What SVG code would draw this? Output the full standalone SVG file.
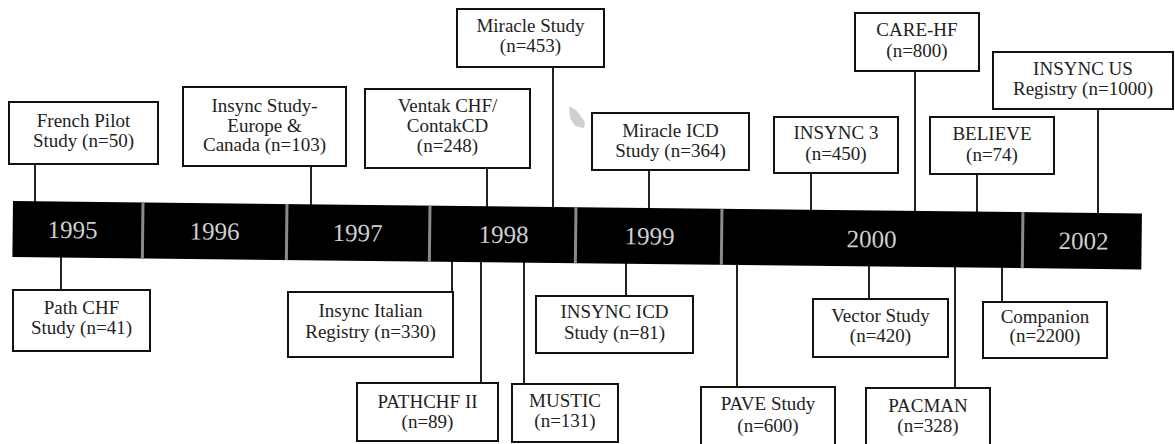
<svg xmlns="http://www.w3.org/2000/svg" width="1175" height="444" viewBox="0 0 1175 444">
<style>
.box rect{fill:#fff;stroke:#111;stroke-width:2}
.box text{font-family:"Liberation Serif","DejaVu Serif","Times New Roman",serif;font-size:19px;fill:#222;text-anchor:middle}
.conn line{stroke:#222;stroke-width:2}
.year{font-family:"Liberation Serif","DejaVu Serif","Times New Roman",serif;font-size:25px;fill:#cfcfcf;text-anchor:middle}
.sep{stroke:#8a8a8a;stroke-width:3}
</style>
<rect width="1175" height="444" fill="#fff"/>
<g id="connectors" class="conn">
<line x1="35" y1="164" x2="35" y2="215"/>
<line x1="311" y1="166" x2="311" y2="215"/>
<line x1="487" y1="168" x2="487" y2="215"/>
<line x1="553" y1="67" x2="553" y2="215"/>
<line x1="649" y1="170" x2="649" y2="215"/>
<line x1="811" y1="173" x2="811" y2="220"/>
<line x1="915" y1="71" x2="915" y2="220"/>
<line x1="977" y1="174" x2="977" y2="220"/>
<line x1="1098" y1="109" x2="1098" y2="220"/>
<line x1="61" y1="240" x2="61" y2="290"/>
<line x1="452" y1="245" x2="452" y2="292"/>
<line x1="481" y1="245" x2="481" y2="383"/>
<line x1="524" y1="245" x2="524" y2="384"/>
<line x1="626" y1="245" x2="626" y2="296"/>
<line x1="737" y1="245" x2="737" y2="387"/>
<line x1="869" y1="250" x2="869" y2="299"/>
<line x1="955" y1="250" x2="955" y2="388"/>
<line x1="1002" y1="250" x2="1002" y2="302"/>
</g>
<g id="timeline" transform="rotate(0.634 13 201)">
<rect x="13" y="201" width="1129" height="56" fill="#000"/>
<line class="sep" x1="143" y1="201" x2="143" y2="257"/>
<line class="sep" x1="287" y1="201" x2="287" y2="257"/>
<line class="sep" x1="430" y1="201" x2="430" y2="257"/>
<line class="sep" x1="576" y1="201" x2="576" y2="257"/>
<line class="sep" x1="722" y1="201" x2="722" y2="257"/>
<line class="sep" x1="1023" y1="201" x2="1023" y2="257"/>
<text class="year" x="73" y="237.5">1995</text>
<text class="year" x="215" y="237.5">1996</text>
<text class="year" x="358" y="237.5">1997</text>
<text class="year" x="504" y="237.5">1998</text>
<text class="year" x="650" y="237.5">1999</text>
<text class="year" x="872" y="238">2000</text>
<text class="year" x="1084" y="237.5">2002</text>
</g>
<polygon points="569,106 576,110 585,122 584,128 575,126 570,118" fill="#c4c4c4" opacity="0.8"/>
<g id="french-pilot" class="box"><rect x="9" y="102" width="149" height="62"/><text x="83.5" y="127">French Pilot</text><text x="83.5" y="147">Study (n=50)</text></g>
<g id="insync-europe" class="box"><rect x="183" y="87" width="163" height="79"/><text x="264.5" y="112">Insync Study-</text><text x="264.5" y="131.5">Europe &amp;</text><text x="264.5" y="151">Canada (n=103)</text></g>
<g id="ventak" class="box"><rect x="365" y="89" width="165" height="79"/><text x="447.5" y="112">Ventak CHF/</text><text x="447.5" y="132">ContakCD</text><text x="447.5" y="152">(n=248)</text></g>
<g id="miracle" class="box"><rect x="457" y="9" width="147" height="58"/><text x="530.5" y="32">Miracle Study</text><text x="530.5" y="52">(n=453)</text></g>
<g id="miracle-icd" class="box"><rect x="592" y="113" width="157" height="57"/><text x="670.5" y="137">Miracle ICD</text><text x="670.5" y="157">Study (n=364)</text></g>
<g id="insync3" class="box"><rect x="774" y="117" width="124" height="56"/><text x="836" y="139">INSYNC 3</text><text x="836" y="160">(n=450)</text></g>
<g id="care-hf" class="box"><rect x="855" y="13" width="124" height="58"/><text x="917" y="36">CARE-HF</text><text x="917" y="57">(n=800)</text></g>
<g id="believe" class="box"><rect x="930" y="117" width="124" height="57"/><text x="992" y="140">BELIEVE</text><text x="992" y="161">(n=74)</text></g>
<g id="insync-us" class="box"><rect x="993" y="52" width="180" height="57"/><text x="1083" y="75">INSYNC US</text><text x="1083" y="95">Registry (n=1000)</text></g>
<g id="path-chf" class="box"><rect x="13" y="290" width="137" height="61"/><text x="81.5" y="314">Path CHF</text><text x="81.5" y="334">Study (n=41)</text></g>
<g id="insync-italian" class="box"><rect x="288" y="292" width="165" height="65"/><text x="370.5" y="317">Insync Italian</text><text x="370.5" y="338">Registry (n=330)</text></g>
<g id="pathchf2" class="box"><rect x="357" y="383" width="141" height="58"/><text x="427.5" y="408">PATHCHF II</text><text x="427.5" y="428">(n=89)</text></g>
<g id="insync-icd" class="box"><rect x="536" y="296" width="157" height="57"/><text x="614.5" y="318">INSYNC ICD</text><text x="614.5" y="339">Study (n=81)</text></g>
<g id="mustic" class="box"><rect x="512" y="384" width="106" height="58"/><text x="565" y="407">MUSTIC</text><text x="565" y="427">(n=131)</text></g>
<g id="pave" class="box"><rect x="701" y="387" width="134" height="60"/><text x="768" y="410">PAVE Study</text><text x="768" y="432">(n=600)</text></g>
<g id="vector" class="box"><rect x="813" y="299" width="135" height="58"/><text x="880.5" y="322">Vector Study</text><text x="880.5" y="342">(n=420)</text></g>
<g id="pacman" class="box"><rect x="866" y="388" width="124" height="60"/><text x="928" y="412">PACMAN</text><text x="928" y="432">(n=328)</text></g>
<g id="companion" class="box"><rect x="983" y="302" width="124" height="56"/><text x="1045" y="323">Companion</text><text x="1045" y="342">(n=2200)</text></g>
</svg>
